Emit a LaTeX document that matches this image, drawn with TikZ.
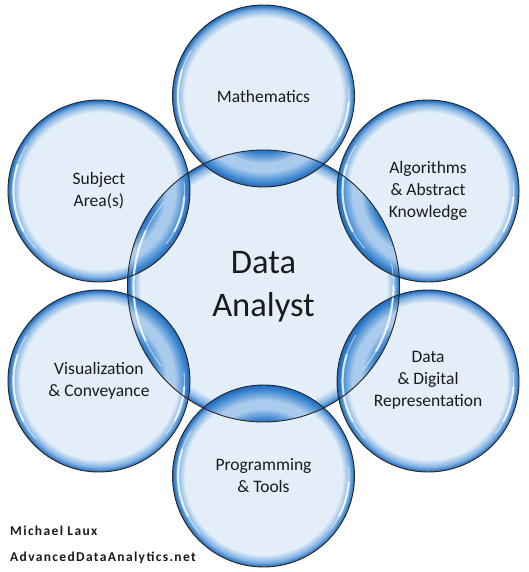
\documentclass[tikz,border=0pt]{standalone}
\usepackage{fontspec}
\setmainfont{Carlito}
\newfontfamily\footfont[LetterSpace=10]{Carlito}
\usetikzlibrary{calc}
\definecolor{bubL}{HTML}{E4EEF8}
\definecolor{bubM}{HTML}{7FB1E3}
\definecolor{bubD}{HTML}{1C68BA}
\definecolor{lensA}{HTML}{1C68BA}
\definecolor{lensB}{HTML}{4F93D6}
\definecolor{lensC}{HTML}{AACBEC}
\definecolor{txt}{HTML}{1A1A1A}
\pgfdeclareradialshading{outerbub}{\pgfpointorigin}{color(0bp)=(bubL); color(21.6bp)=(bubL); color(23.7bp)=(bubM); color(25bp)=(bubD); color(50bp)=(bubD)}
\pgfdeclareradialshading{centerbub}{\pgfpointorigin}{color(0bp)=(bubL); color(22.6bp)=(bubL); color(24.1bp)=(bubM); color(25bp)=(bubD); color(50bp)=(bubD)}
\pgfdeclareradialshading{lensbub}{\pgfpointorigin}{color(0bp)=(lensA); color(14.6bp)=(lensA); color(16.3bp)=(lensB); color(18.5bp)=(lensC); color(20.8bp)=(lensC); color(23.2bp)=(lensB); color(25bp)=(lensA); color(50bp)=(lensA)}
\tikzset{
  hl/.style={white, opacity=.7, line cap=round, line width=2.2pt},
  hlthin/.style={white, opacity=.5, line cap=round, line width=1.1pt},
  rim/.style={draw=black!85, line width=0.9pt},
  lbl/.style={align=center, text=txt, font=\fontsize{17.5}{22}\selectfont},
  foot/.style={anchor=base west, text=txt, inner sep=0pt, font=\footfont\bfseries\fontsize{13.5}{15}\selectfont}
}
\begin{document}
\begin{tikzpicture}[x=1pt,y=1pt]
\useasboundingbox (0,0) rectangle (529,572);
\coordinate (C) at (263.5,286);
\foreach \n/\a in {m/90, a/30, d/-30, p/-90, v/210, s/150}
  \path (C) ++(\a:190) coordinate (\n);
% fills
\shade[shading=centerbub] (C) circle (136);
\foreach \n in {m,a,d,p,v,s}
  \shade[shading=outerbub] (\n) circle (91);
% lenses
\foreach \n in {m,a,d,p,v,s} {
  \begin{scope}
    \clip (C) circle (136);
    \shade[shading=lensbub] (\n) circle (91);
  \end{scope}
}
% highlights
\foreach \n in {m,a,d,p,v,s} {
  \draw[hlthin] (\n) ++(148:85.5) arc (148:222:85.5);
  \draw[hl] (\n) ++(162:85.5) arc (162:208:85.5);
  \draw[hlthin] (\n) ++(-38:85.5) arc (-38:6:85.5);
  \draw[hl] (\n) ++(-28:85.5) arc (-28:-4:85.5);
}
\draw[hlthin] (C) ++(140:130) arc (140:218:130);
\draw[hl] (C) ++(155:130) arc (155:205:130);
\draw[hlthin] (C) ++(-40:130) arc (-40:10:130);
\draw[hl] (C) ++(-30:130) arc (-30:0:130);
% outlines
\draw[rim] (C) circle (136);
\foreach \n in {m,a,d,p,v,s}
  \draw[rim] (\n) circle (91);
% labels
\node[lbl] (tm) at (m) {Mathematics};
\node[lbl] (ta) at (a) {Algorithms\\\& Abstract\\Knowledge};
\node[lbl] (td) at ($(d)+(0,1)$) {Data\\\& Digital\\Representation};
\node[lbl] (tp) at (p) {Programming\\\& Tools};
\node[lbl] (tv) at (v) {Visualization\\\& Conveyance};
\node[lbl] (ts) at (s) {Subject\\Area(s)};
\node[align=center, text=txt, font=\fontsize{34.5}{43}\selectfont] (tc) at (263.5,285) {Data\\Analyst};
\node[foot] (f1) at (10,36.5) {Michael Laux};
\node[foot] (f2) at (10,10.5) {AdvancedDataAnalytics.net};
\end{tikzpicture}
\end{document}
